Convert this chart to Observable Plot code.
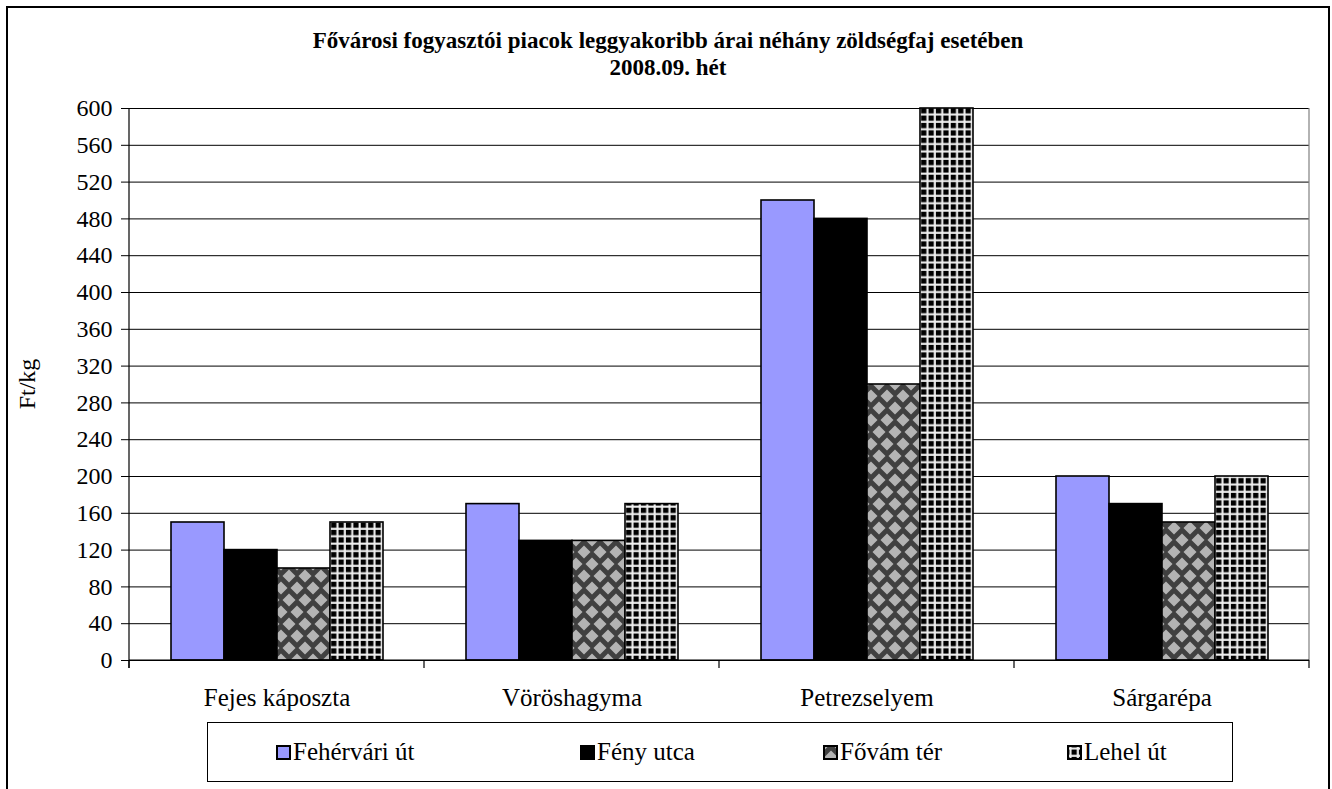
<!DOCTYPE html>
<html><head><meta charset="utf-8">
<script src="https://cdn.jsdelivr.net/npm/d3@7"></script>
<script src="https://cdn.jsdelivr.net/npm/@observablehq/plot@0.6"></script>
<style>
html,body{margin:0;padding:0;background:#fff;overflow:hidden;width:1332px;height:789px}
body{font-family:"Liberation Serif","Times New Roman",serif;color:#000;position:relative}
#frame{position:absolute;left:6px;top:6px;width:1324px;height:800px;border:2px solid #000;box-sizing:border-box}
#title{position:absolute;left:0;width:1336px;top:27px;text-align:center;font-weight:bold;font-size:23px;line-height:27px;font-family:"Liberation Serif",serif}
#chart{position:absolute;left:0;top:0}
#legend{position:absolute;left:207px;top:722px;width:1026px;height:60px;border:1px solid #000;box-sizing:border-box;background:#fff}
.item{position:absolute;top:15px;height:28px;display:flex;align-items:center;font-size:25px;white-space:nowrap;font-family:"Liberation Serif",serif}
.item svg{margin-right:2px}
</style></head>
<body>
<svg width="0" height="0" style="position:absolute">
<defs>
<pattern id="checker" patternUnits="userSpaceOnUse" width="16" height="24">
<rect width="16" height="24" fill="#404040"/>
<path d="M8,5.5L14.5,12L8,18.5L1.5,12Z" fill="#b4b4b4"/>
<path d="M0,-6.5L6.5,0L0,6.5L-6.5,0Z" fill="#b4b4b4"/>
<path d="M16,-6.5L22.5,0L16,6.5L9.5,0Z" fill="#b4b4b4"/>
<path d="M0,17.5L6.5,24L0,30.5L-6.5,24Z" fill="#b4b4b4"/>
<path d="M16,17.5L22.5,24L16,30.5L9.5,24Z" fill="#b4b4b4"/>
</pattern>
<pattern id="gridpat" patternUnits="userSpaceOnUse" width="7.4" height="7.4">
<rect width="7.4" height="7.4" fill="#000"/>
<rect x="0" y="2.4" width="7.4" height="2.1" fill="#f0f0f0"/>
<rect x="2.4" y="0" width="2.1" height="7.4" fill="#f0f0f0"/>
</pattern>
</defs>
</svg>
<div id="frame"></div>
<div id="title">Fővárosi fogyasztói piacok leggyakoribb árai néhány zöldségfaj esetében<br>2008.09. hét</div>
<div id="chart"></div>
<div id="legend"></div>
<script>
const categories = ["Fejes káposzta", "Vöröshagyma", "Petrezselyem", "Sárgarépa"];
const series = ["Fehérvári út", "Fény utca", "Fővám tér", "Lehel út"];
const fehervariUt = [150, 170, 500, 200];
const fenyUtca = [120, 130, 480, 170];
const fovamTer = [100, 130, 300, 150];
const lehelUt = [150, 170, 600, 200];
const yTicks = [0, 40, 80, 120, 160, 200, 240, 280, 320, 360, 400, 440, 480, 520, 560, 600];
const yLabel = "Ft/kg";
const seriesFills = ["#9999FF", "#000000", "url(#checker)", "url(#gridpat)"];

const FONT = "Liberation Serif";
const valuesBySeries = [fehervariUt, fenyUtca, fovamTer, lehelUt];
const data = categories.flatMap((c, i) => series.map((s, j) => ({cat: c, series: s, value: valuesBySeries[j][i]})));

const plot = Plot.plot({
  width: 1332,
  height: 715,
  marginTop: 108,
  marginBottom: 55,
  marginLeft: 128,
  marginRight: 22,
  style: {fontFamily: FONT, fontSize: "24px", color: "#000", background: "transparent", overflow: "visible"},
  fx: {domain: categories, padding: 0, label: null},
  x: {domain: series, paddingInner: 0, paddingOuter: 0.74, axis: null},
  y: {domain: [0, 600], label: null},
  color: {domain: series, range: seriesFills},
  marks: [
    Plot.ruleY(yTicks, {stroke: "#000", strokeWidth: 1}),
    Plot.barY(data, {fx: "cat", x: "series", y: "value", fill: "series", stroke: "#000", strokeWidth: 1.6}),
    Plot.axisY({ticks: yTicks, tickSize: 8, tickPadding: 9, label: null, fontSize: 24, fontFamily: FONT, stroke: "#000"}),
    Plot.axisFx({anchor: "bottom", tickSize: 0, tickPadding: 28, label: null, fontSize: 25, fontFamily: FONT})
  ]
});
plot.style.fontFamily = FONT;
document.getElementById("chart").appendChild(plot);

// axis lines and category boundary ticks from the library scales
const fx = plot.scale("fx"), y = plot.scale("y");
const svg = d3.select(plot);
svg.selectAll("text").attr("font-family", FONT);
const left = fx.apply(categories[0]);
const right = fx.apply(categories[categories.length - 1]) + fx.bandwidth;
const y0 = y.apply(0), yTop = y.apply(600);
const bounds = categories.map(c => fx.apply(c)).concat([right]);
const g = svg.append("g");
g.append("line").attr("x1", right).attr("x2", right).attr("y1", yTop).attr("y2", y0).attr("stroke", "#808080").attr("stroke-width", 1.2);
g.append("line").attr("x1", left).attr("x2", left).attr("y1", yTop).attr("y2", y0 + 8).attr("stroke", "#000").attr("stroke-width", 1.2);
bounds.forEach(b => g.append("line").attr("x1", b).attr("x2", b).attr("y1", y0).attr("y2", y0 + 8).attr("stroke", "#000").attr("stroke-width", 1.2));
g.append("line").attr("x1", left).attr("x2", right).attr("y1", y0).attr("y2", y0).attr("stroke", "#000").attr("stroke-width", 1.2);
g.append("text").attr("x", 35).attr("y", (y0 + yTop) / 2).attr("transform", `rotate(-90,35,${(y0 + yTop) / 2})`)
  .attr("text-anchor", "middle").attr("font-size", 24).attr("font-family", FONT).attr("fill", "#000").text(yLabel);

// legend
const legendLefts = [275, 579, 822, 1066];
const legend = document.getElementById("legend");
series.forEach((s, j) => {
  const it = document.createElement("div");
  it.className = "item";
  it.style.left = (legendLefts[j] - 207) + "px";
  it.innerHTML = `<svg width="15" height="15"><rect x="1" y="1" width="13" height="13" fill="${seriesFills[j]}" stroke="#000" stroke-width="2"/></svg><span>${s}</span>`;
  legend.appendChild(it);
});
</script>
</body></html>
